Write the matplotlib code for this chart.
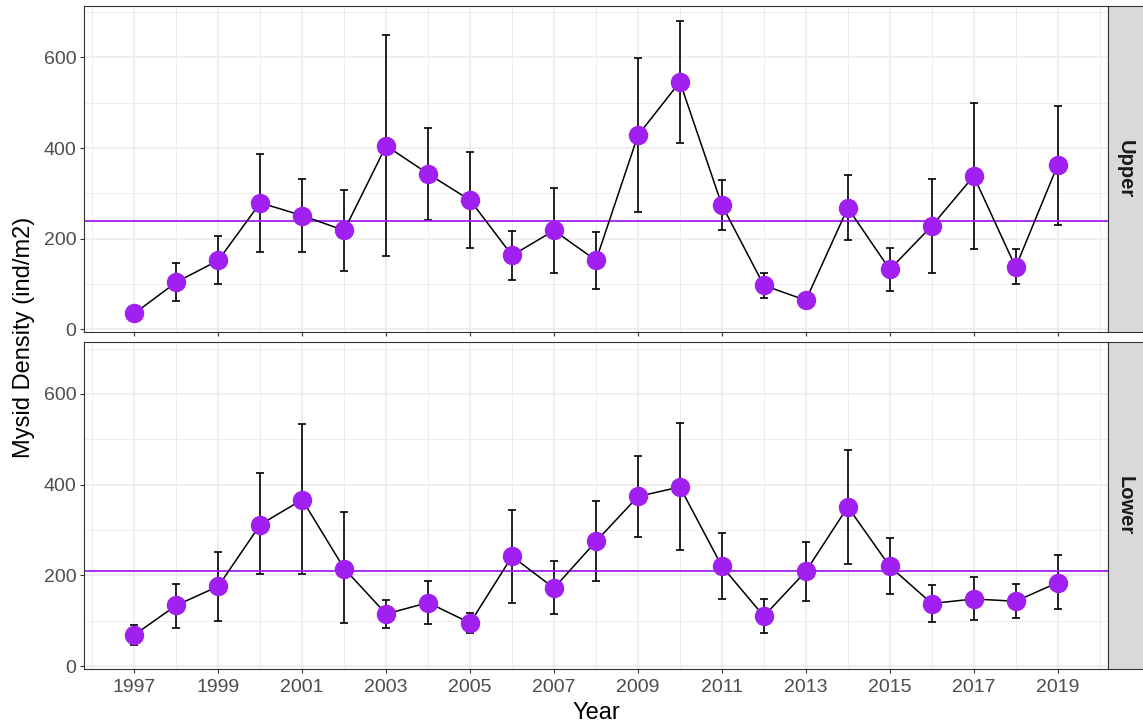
import matplotlib
matplotlib.use("Agg")
import matplotlib.pyplot as plt
import numpy as np

plt.rcParams["font.family"] = ["Liberation Sans", "DejaVu Sans"]

years = list(range(1997, 2020))

# Upper station: mean density and error bar limits
upper_mean = [35, 104, 152, 279, 251, 218, 405, 343, 285, 163, 218, 152,
              428, 546, 274, 97, 64, 268, 132, 228, 338, 137, 362]
upper_lo = [35, 62, 99, 171, 171, 129, 162, 241, 179, 109, 125, 90,
            259, 410, 218, 69, 64, 196, 85, 124, 177, 99, 231]
upper_hi = [35, 147, 205, 387, 332, 307, 650, 444, 392, 217, 311, 215,
            599, 681, 329, 124, 64, 341, 179, 332, 499, 178, 493]
upper_avg = 240

# Lower station
lower_mean = [69, 134, 176, 312, 367, 215, 115, 140, 95, 242, 172, 275,
              374, 395, 220, 110, 209, 351, 220, 138, 148, 143, 184]
lower_lo = [47, 85, 99, 202, 202, 94, 84, 92, 72, 140, 114, 187,
            285, 255, 147, 73, 144, 226, 159, 97, 101, 107, 125]
lower_hi = [90, 182, 251, 425, 534, 339, 146, 187, 118, 345, 231, 364,
            463, 537, 293, 148, 274, 476, 282, 179, 197, 181, 244]
lower_avg = 210

panels = [("Upper", upper_mean, upper_lo, upper_hi, upper_avg),
          ("Lower", lower_mean, lower_lo, lower_hi, lower_avg)]

W, H = 1143, 725
fig = plt.figure(figsize=(W / 100, H / 100), dpi=100)

purple = "#A020F0"
grid_col = "#EBEBEB"
border_col = "#333333"
text_col = "#4D4D4D"

left, right = 84, 1108
boxes = [(5.7, 331.7), (342.3, 668.5)]

for i, ((name, mean, lo, hi, avg), (top, bot)) in enumerate(zip(panels, boxes)):
    ax = fig.add_axes([left / W, 1 - bot / H, (right - left) / W, (bot - top) / H])
    ax.set_xlim(1995.8, 2020.2)
    ax.set_ylim(-5.3, 714)

    ax.set_xticks(range(1997, 2020, 2))
    ax.set_xticks(range(1996, 2021, 2), minor=True)
    ax.set_yticks([0, 200, 400, 600])
    ax.set_yticks([100, 300, 500, 700], minor=True)
    ax.grid(which="major", color=grid_col, lw=1.1, zorder=0)
    ax.grid(which="minor", color=grid_col, lw=0.6, zorder=0)
    ax.set_axisbelow(True)

    mean_a = np.array(mean)
    yerr = [mean_a - np.array(lo), np.array(hi) - mean_a]
    ax.errorbar(years, mean, yerr=yerr, fmt="none", ecolor="black",
                elinewidth=1.2, capsize=3, capthick=1.2, zorder=2)
    ax.axhline(avg, color=purple, lw=1.3, zorder=2)
    ax.plot(years, mean, color="black", lw=1.1, zorder=3)
    ax.plot(years, mean, "o", color=purple, ms=13, mec=purple, zorder=4)

    for sp in ax.spines.values():
        sp.set_color(border_col)
        sp.set_linewidth(0.8)
    ax.tick_params(which="major", length=3, color=border_col,
                   labelsize=14, labelcolor=text_col, pad=2.5)
    ax.tick_params(axis="x", pad=4.5)
    ax.tick_params(which="minor", length=0)
    if i == 0:
        ax.tick_params(axis="x", labelbottom=False)

    # facet strip on the right
    sax = fig.add_axes([right / W, 1 - bot / H, (W - right) / W, (bot - top) / H])
    sax.set_facecolor("#D9D9D9")
    sax.set_xticks([])
    sax.set_yticks([])
    for sp in sax.spines.values():
        sp.set_color(border_col)
        sp.set_linewidth(0.8)
    sax.spines["right"].set_visible(False)
    sax.text(0.5, 0.5, name, rotation=270, ha="center", va="center",
             fontsize=14.5, fontweight="bold", color="#1A1A1A",
             transform=sax.transAxes)

fig.text((left + right) / 2 / W, 1 - 719 / H, "Year", ha="center",
         va="baseline", fontsize=17, color="black")
fig.text(24 / W, 1 - 337 / H, "Mysid Density (ind/m2)", rotation=90,
         ha="center", va="center", fontsize=17, color="black")

fig.savefig("out.png", dpi=100)
